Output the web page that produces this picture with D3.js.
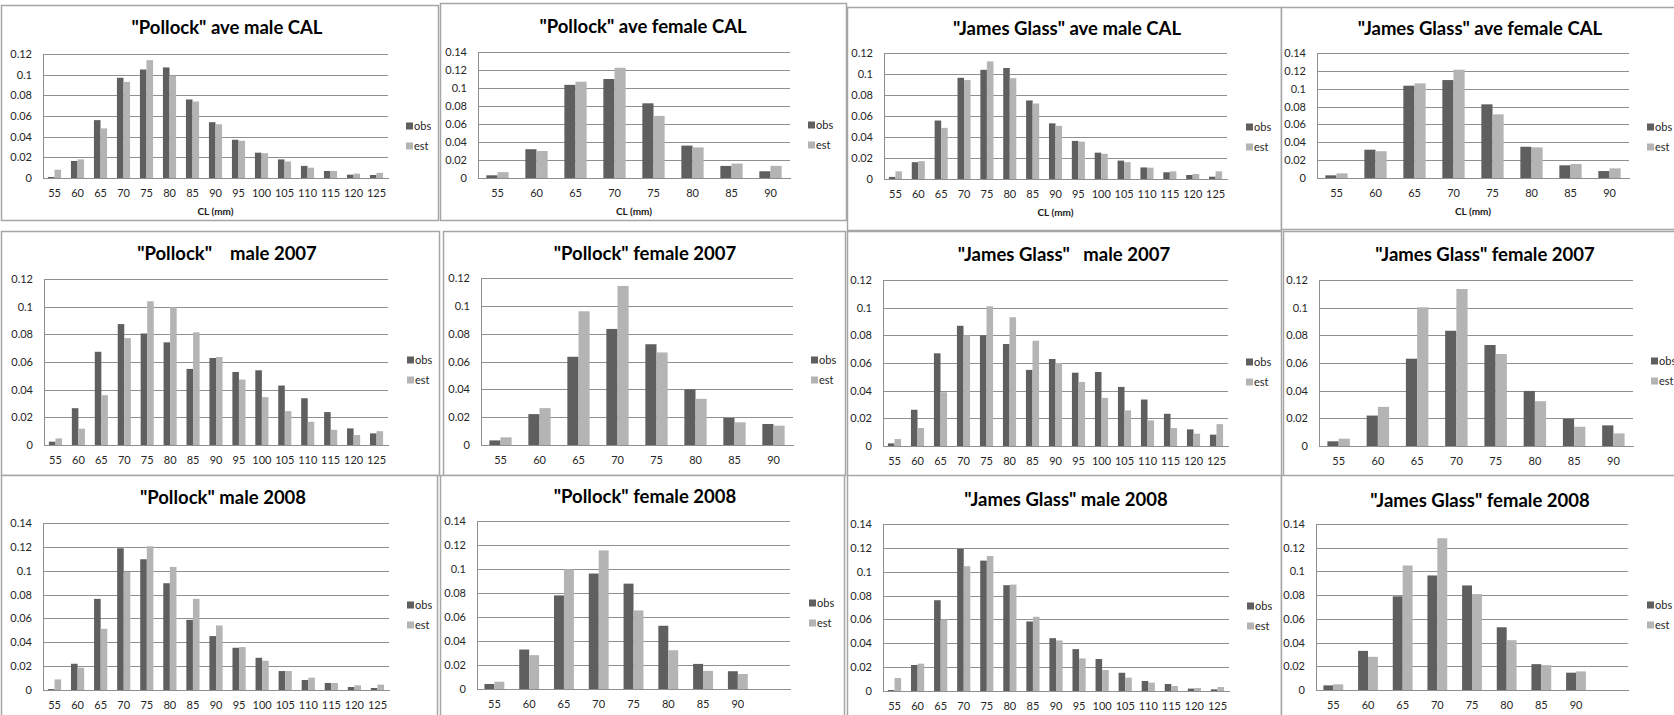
<!DOCTYPE html>
<html>
<head>
<meta charset="utf-8">
<script src="https://cdn.jsdelivr.net/npm/d3@7"></script>
<style>
  html, body { margin: 0; padding: 0; background: #fff; overflow: hidden; }
  svg { display: block; font-family: Lato, "Open Sans", sans-serif; }
  .title { white-space: pre; }
</style>
</head>
<body>
<svg id="chart" width="1674" height="715"></svg>
<script>
// ---- length classes (CL, mm) ----
const catsMale = ["55","60","65","70","75","80","85","90","95","100","105","110","115","120","125"];
const catsFemale = ["55","60","65","70","75","80","85","90"];
const catsFemaleWide = ["55","60","65","70","75","80","85","90",""];

// ---- y-axis tick values ----
const ticks012 = [0, 0.02, 0.04, 0.06, 0.08, 0.1, 0.12];
const ticks014 = [0, 0.02, 0.04, 0.06, 0.08, 0.1, 0.12, 0.14];

const seriesNames = ["obs", "est"];

// ---- proportions at length, observed vs estimated ----
const pollockAveMaleObs = [0.001, 0.0165, 0.056, 0.097, 0.105, 0.107, 0.076, 0.054, 0.037, 0.0245, 0.018, 0.0117, 0.0068, 0.0032, 0.0029];
const pollockAveMaleEst = [0.008, 0.018, 0.048, 0.093, 0.114, 0.099, 0.074, 0.052, 0.036, 0.024, 0.016, 0.010, 0.0068, 0.0042, 0.005];

const pollockAveFemaleObs = [0.003, 0.032, 0.1035, 0.110, 0.083, 0.036, 0.0134, 0.0075];
const pollockAveFemaleEst = [0.0065, 0.030, 0.107, 0.1225, 0.069, 0.034, 0.016, 0.0135];

const jamesAveMaleObs = [0.002, 0.016, 0.0557, 0.0964, 0.104, 0.1057, 0.0748, 0.053, 0.0363, 0.0251, 0.0175, 0.011, 0.0064, 0.0038, 0.0022];
const jamesAveMaleEst = [0.0073, 0.017, 0.0487, 0.0942, 0.112, 0.096, 0.0719, 0.0506, 0.0356, 0.024, 0.016, 0.0108, 0.0073, 0.0048, 0.0073];

const jamesAveFemaleObs = [0.003, 0.0317, 0.1034, 0.1097, 0.0825, 0.035, 0.0142, 0.0078];
const jamesAveFemaleEst = [0.0052, 0.030, 0.106, 0.1213, 0.0713, 0.0343, 0.0157, 0.0108];

const pollockMale2007Obs = [0.0024, 0.0266, 0.0674, 0.0874, 0.0806, 0.0742, 0.055, 0.0629, 0.0528, 0.054, 0.043, 0.0338, 0.0238, 0.012, 0.0084];
const pollockMale2007Est = [0.0048, 0.0118, 0.036, 0.0773, 0.1039, 0.0996, 0.0814, 0.0636, 0.0473, 0.0346, 0.0245, 0.0168, 0.011, 0.0072, 0.010];

const pollockFemale2007Obs = [0.0033, 0.0222, 0.0634, 0.0834, 0.0724, 0.040, 0.0194, 0.0151];
const pollockFemale2007Est = [0.0055, 0.0265, 0.0961, 0.1143, 0.0665, 0.0332, 0.0163, 0.0139];

const jamesMale2007Obs = [0.0019, 0.0262, 0.067, 0.0869, 0.080, 0.0737, 0.055, 0.0629, 0.053, 0.0535, 0.0427, 0.0336, 0.0233, 0.012, 0.0082];
const jamesMale2007Est = [0.005, 0.013, 0.0389, 0.080, 0.101, 0.0931, 0.0761, 0.060, 0.0463, 0.0348, 0.0257, 0.0185, 0.013, 0.0089, 0.0158];

const jamesFemale2007Obs = [0.0034, 0.022, 0.0631, 0.0833, 0.073, 0.0398, 0.0197, 0.0149];
const jamesFemale2007Est = [0.0053, 0.0283, 0.1003, 0.1135, 0.0665, 0.0324, 0.0139, 0.0091];

const pollockMale2008Obs = [0.0008, 0.022, 0.0764, 0.1188, 0.1096, 0.0895, 0.0588, 0.0452, 0.0354, 0.027, 0.0159, 0.0084, 0.0059, 0.0025, 0.0017];
const pollockMale2008Est = [0.0089, 0.0187, 0.0513, 0.099, 0.1205, 0.1032, 0.0764, 0.0541, 0.036, 0.0245, 0.0159, 0.0103, 0.0059, 0.0039, 0.0045];

const pollockFemale2008Obs = [0.0042, 0.0329, 0.078, 0.0962, 0.0878, 0.0527, 0.0209, 0.0148, null];
const pollockFemale2008Est = [0.0061, 0.0282, 0.0998, 0.1155, 0.0655, 0.0323, 0.0151, 0.0125, null];

const jamesMale2008Obs = [0.0008, 0.0218, 0.0761, 0.1191, 0.1093, 0.0887, 0.0583, 0.0443, 0.0351, 0.0268, 0.0153, 0.0084, 0.0059, 0.002, 0.0014];
const jamesMale2008Est = [0.0109, 0.0229, 0.060, 0.1046, 0.1132, 0.0892, 0.0622, 0.0424, 0.0273, 0.0176, 0.0112, 0.007, 0.0042, 0.0025, 0.0033];

const jamesFemale2008Obs = [0.0039, 0.033, 0.079, 0.0966, 0.0882, 0.0529, 0.0218, 0.0146, null];
const jamesFemale2008Est = [0.0048, 0.028, 0.105, 0.128, 0.0809, 0.042, 0.021, 0.0157, null];

// ---- panel titles ----
const titles = [
  '"Pollock" ave male CAL', '"Pollock" ave female CAL', '"James Glass" ave male CAL', '"James Glass" ave female CAL',
  '"Pollock"    male 2007', '"Pollock" female 2007', '"James Glass"   male 2007', '"James Glass" female 2007',
  '"Pollock" male 2008', '"Pollock" female 2008', '"James Glass" male 2008', '"James Glass" female 2008'
];
const axisTitle = "CL (mm)";

// panel contents
const panels = [
  { cats: catsMale,       obs: pollockAveMaleObs,    est: pollockAveMaleEst,    ticks: ticks012, xTitle: true },
  { cats: catsFemale,     obs: pollockAveFemaleObs,  est: pollockAveFemaleEst,  ticks: ticks014, xTitle: true },
  { cats: catsMale,       obs: jamesAveMaleObs,      est: jamesAveMaleEst,      ticks: ticks012, xTitle: true },
  { cats: catsFemale,     obs: jamesAveFemaleObs,    est: jamesAveFemaleEst,    ticks: ticks014, xTitle: true },
  { cats: catsMale,       obs: pollockMale2007Obs,   est: pollockMale2007Est,   ticks: ticks012, xTitle: false },
  { cats: catsFemale,     obs: pollockFemale2007Obs, est: pollockFemale2007Est, ticks: ticks012, xTitle: false },
  { cats: catsMale,       obs: jamesMale2007Obs,     est: jamesMale2007Est,     ticks: ticks012, xTitle: false },
  { cats: catsFemale,     obs: jamesFemale2007Obs,   est: jamesFemale2007Est,   ticks: ticks012, xTitle: false },
  { cats: catsMale,       obs: pollockMale2008Obs,   est: pollockMale2008Est,   ticks: ticks014, xTitle: false },
  { cats: catsFemaleWide, obs: pollockFemale2008Obs, est: pollockFemale2008Est, ticks: ticks014, xTitle: false },
  { cats: catsMale,       obs: jamesMale2008Obs,     est: jamesMale2008Est,     ticks: ticks014, xTitle: false },
  { cats: catsFemaleWide, obs: jamesFemale2008Obs,   est: jamesFemale2008Est,   ticks: ticks014, xTitle: false }
].map((p, i) => Object.assign(p, { title: titles[i] }));

// ---- page layout: frame box, plot rect, title anchor, legend anchor ----
const layout = [
  { box: [1, 5, 438, 220],     plot: [43, 54, 388, 178],    tx: 227,  ty: 34,  lx: 406,  ly: 126 },
  { box: [440, 3, 846, 220],   plot: [478, 52, 790, 178],   tx: 643,  ty: 33,  lx: 808,  ly: 125 },
  { box: [847, 7, 1281, 230],  plot: [884, 53, 1227, 179],  tx: 1067, ty: 35,  lx: 1246, ly: 127 },
  { box: [1281, 7, 1690, 229], plot: [1317, 53, 1629, 178], tx: 1480, ty: 35,  lx: 1647, ly: 127 },
  { box: [1, 231, 439, 475],   plot: [44, 279, 388, 445],   tx: 227,  ty: 260, lx: 407,  ly: 360 },
  { box: [443, 231, 845, 475], plot: [481, 278, 793, 445],  tx: 645,  ty: 260, lx: 811,  ly: 360 },
  { box: [847, 231, 1281, 476],plot: [883, 280, 1228, 446], tx: 1064, ty: 261, lx: 1246, ly: 362 },
  { box: [1283, 231, 1690, 476],plot: [1319, 280, 1633, 446],tx: 1485, ty: 261, lx: 1651, ly: 361 },
  { box: [1, 475, 437, 730],   plot: [43, 523, 389, 690],   tx: 223,  ty: 504, lx: 407,  ly: 605 },
  { box: [440, 475, 844, 730], plot: [477, 521, 790, 689],  tx: 645,  ty: 503, lx: 809,  ly: 603 },
  { box: [847, 475, 1281, 730],plot: [883, 524, 1229, 691], tx: 1066, ty: 506, lx: 1247, ly: 606 },
  { box: [1281, 475, 1690, 730],plot: [1316, 524, 1628, 690],tx: 1480, ty: 507, lx: 1647, ly: 605 }
];

const colors = { obs: "#5f5f5f", est: "#b4b4b4" };
const svg = d3.select("#chart");

panels.forEach((p, i) => {
  const L = layout[i];
  const [left, top, right, bottom] = L.plot;
  const g = svg.append("g");

  // chart frame
  g.append("rect")
    .attr("x", L.box[0] + 0.5).attr("y", L.box[1] + 0.5)
    .attr("width", L.box[2] - L.box[0]).attr("height", L.box[3] - L.box[1])
    .attr("fill", "#fff").attr("stroke", "#a6a6a6").attr("stroke-width", 1.5);

  const yMax = p.ticks[p.ticks.length - 1];
  const y = d3.scaleLinear().domain([0, yMax]).range([bottom, top]);
  // category slots: two bars per slot, gap of 150% of a bar width
  const x = d3.scaleBand().domain(p.cats).range([left, right])
    .paddingInner(1.5 / 3.5).paddingOuter(0.75 / 3.5);
  const xs = d3.scaleBand().domain(seriesNames).range([0, x.bandwidth()]);

  // horizontal gridlines
  g.append("g")
    .attr("transform", `translate(${left},0)`)
    .call(d3.axisLeft(y).tickValues(p.ticks).tickSize(-(right - left)).tickFormat(""))
    .call(s => s.select(".domain").remove())
    .call(s => s.selectAll(".tick line").attr("stroke", "#8f8f8f").attr("stroke-width", 1)
      .attr("shape-rendering", "crispEdges"));

  // y tick labels + axis line
  g.append("g")
    .attr("transform", `translate(${left},0)`)
    .call(d3.axisLeft(y).tickValues(p.ticks).tickSize(0).tickPadding(11)
      .tickFormat(d => String(+d.toFixed(2))))
    .call(s => s.select(".domain").attr("stroke", "#8f8f8f").attr("shape-rendering", "crispEdges"))
    .call(s => s.selectAll("text").attr("font-size", 11).attr("fill", "#262626")
      .attr("font-family", "Lato, sans-serif"));

  // bars
  const rows = p.cats.map((c, k) => ({ cat: c, obs: p.obs[k], est: p.est[k] }));
  const grp = g.append("g").selectAll("g").data(rows).join("g")
    .attr("transform", d => `translate(${x(d.cat)},0)`);
  grp.selectAll("rect")
    .data(d => seriesNames.filter(s => d[s] != null).map(s => ({ key: s, value: d[s] })))
    .join("rect")
    .attr("x", d => xs(d.key))
    .attr("width", xs.bandwidth())
    .attr("y", d => y(d.value))
    .attr("height", d => y(0) - y(d.value))
    .attr("fill", d => colors[d.key]);

  // x axis
  g.append("g")
    .attr("transform", `translate(0,${bottom})`)
    .call(d3.axisBottom(x).tickSize(0).tickPadding(11))
    .call(s => s.select(".domain").attr("stroke", "#8f8f8f").attr("shape-rendering", "crispEdges"))
    .call(s => s.selectAll("text").attr("font-size", 11).attr("fill", "#262626")
      .attr("font-family", "Lato, sans-serif"));

  if (p.xTitle) {
    g.append("text")
      .attr("x", (left + right) / 2).attr("y", bottom + 37)
      .attr("text-anchor", "middle").attr("font-size", 10).attr("font-weight", "bold")
      .attr("fill", "#1a1a1a").text(axisTitle);
  }

  // title
  g.append("text").attr("class", "title")
    .attr("x", L.tx).attr("y", L.ty)
    .attr("text-anchor", "middle").attr("font-size", 18.5).attr("font-weight", "bold")
    .attr("fill", "#000").text(p.title);

  // legend
  const lg = g.append("g").selectAll("g").data(seriesNames).join("g")
    .attr("transform", (d, k) => `translate(${L.lx},${L.ly + k * 20})`);
  lg.append("rect").attr("x", 0).attr("y", -3.5).attr("width", 7).attr("height", 7)
    .attr("fill", d => colors[d]);
  lg.append("text").attr("x", 8).attr("y", 4).attr("font-size", 11).attr("fill", "#262626")
    .text(d => d);
});
</script>
</body>
</html>
